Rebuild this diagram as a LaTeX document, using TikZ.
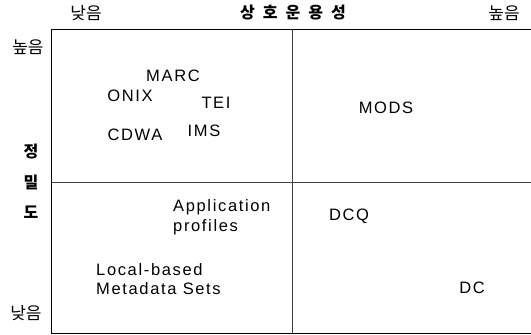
\documentclass[tikz,border=0pt]{standalone}
\usepackage{fontspec}
\setmainfont{Liberation Sans}[LetterSpace=10]
\newfontfamily\kofont{Noto Sans CJK KR}
\usetikzlibrary{positioning}

\begin{document}
\begin{tikzpicture}[
    x=1pt, y=-1pt,
    frame/.style={line width=1pt, black},
    split/.style={line width=0.6pt, black!75},
    lbl/.style={inner sep=0pt, font=\fontsize{16.5}{19.5}\selectfont},
    ko/.style={inner sep=0pt, font=\kofont\fontsize{17}{19}\selectfont},
    kob/.style={inner sep=0pt, font=\kofont\bfseries\fontsize{16}{18}\selectfont}
]
\useasboundingbox (0,0) rectangle (531,335);

% quadrant frame
\draw[frame] (51,333) -- (51,29) -- (531,29);
\draw[frame] (51,333) -- (531,333);
\draw[split] (292,29) -- (292,333);
\draw[split] (51,182) -- (531,182);

% axis titles
\node[ko] (xlow) at (86,13) {낮음};
\node[kob] (xtitle) at (293,13) {\addfontfeature{LetterSpace=50}상호운용성};
\node[ko] (xhigh) at (504,13) {높음};
\node[ko] (yhigh) at (28,47) {높음};
\node[kob] (ya) at (31,152) {정};
\node[kob] (yb) at (31,182) {밀};
\node[kob] (yc) at (31,212) {도};
\node[ko] (ylow) at (26,313) {낮음};

% metadata schemes
\node[lbl] (marc) at (173,76) {MARC};
\node[lbl] (onix) at (130,96) {ONIX};
\node[lbl] (tei) at (216,103) {TEI};
\node[lbl] (cdwa) at (135,135) {CDWA};
\node[lbl] (ims) at (204,131) {IMS};
\node[lbl] (mods) at (386,108) {MODS};
\node[lbl, align=left, anchor=west] (app) at (173,217) {Application\\profiles};
\node[lbl] (dcq) at (349,216) {DCQ};
\node[lbl, align=left, anchor=west] (local) at (96,279) {Local-based\\Metadata Sets};
\node[lbl] (dc) at (472,288) {DC};
\end{tikzpicture}
\end{document}
